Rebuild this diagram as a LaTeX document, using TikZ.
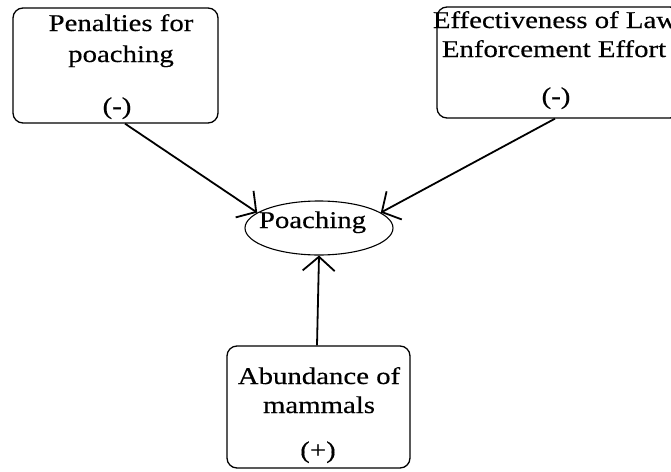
\documentclass[tikz,border=0pt]{standalone}
\usepackage{fontspec}
\setmainfont{Liberation Serif}[FakeStretch=1.2,FakeBold=0.4]
\usetikzlibrary{arrows.meta,shapes.geometric}
\begin{document}
\begin{tikzpicture}[x=1pt,y=-1pt,
  boxstyle/.style={draw, line width=1.3pt, rounded corners=10pt, rectangle, inner sep=0pt},
  ovalstyle/.style={draw, line width=1.1pt, ellipse, inner sep=0pt, minimum width=148pt, minimum height=54pt},
  txt/.style={font=\fontsize{24}{29}\selectfont, inner sep=0pt, anchor=base},
  conn/.style={line width=1.8pt, -{Straight Barb[length=14pt,width=32pt,line width=1.8pt]}}]
\useasboundingbox (0,0) rectangle (671,471);
\fill[white] (0,0) rectangle (671,471);
\clip (0,0) rectangle (671,471);
% boxes
\node[boxstyle, minimum width=205pt, minimum height=115pt] (pen) at (115.5,65.5) {};
\node[boxstyle, minimum width=243pt, minimum height=111pt] (eff) at (558.5,62.5) {};
\node[boxstyle, minimum width=183pt, minimum height=122pt] (abu) at (318.5,407) {};
\node[ovalstyle] (poach) at (319,228) {};
% texts
\node[txt] (pen1) at (121,31) {Penalties for};
\node[txt] (pen2) at (121,62) {poaching};
\node[txt] (pen3) at (117,114) {(-)};
\node[txt] (eff1) at (555,28) {Effectiveness of Law};
\node[txt] (eff2) at (554,57) {Enforcement Effort};
\node[txt] (eff3) at (556,104) {(-)};
\node[txt] (abu1) at (319,384) {Abundance of};
\node[txt] (abu2) at (319,413) {mammals};
\node[txt] (abu3) at (318,458) {(+)};
\node[txt] (poacht) at (312.5,228) {Poaching};
% connectors
\draw[conn] ([xshift=9.5pt]pen.south) -- (poach.166);
\draw[conn] ([xshift=-3.5pt]eff.south) -- (poach.14);
\draw[conn] ([xshift=-1.5pt]abu.north) -- (poach.south);
\end{tikzpicture}
\end{document}
